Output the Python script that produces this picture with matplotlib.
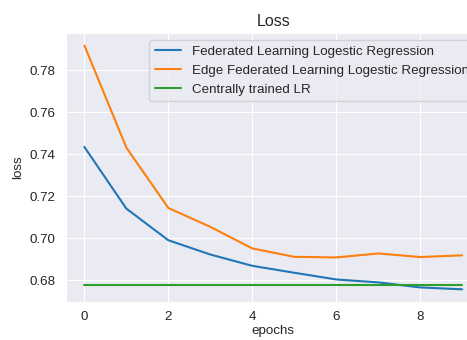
import numpy as np
import matplotlib
matplotlib.use("Agg")
import matplotlib.pyplot as plt
import seaborn as sns

# Data
epochs = list(range(10))
fl_loss = [0.7435, 0.7141, 0.6990, 0.6922, 0.6868, 0.6835, 0.6803, 0.6789, 0.6765, 0.6756]
edge_fl_loss = [0.7919, 0.7432, 0.7144, 0.7054, 0.6951, 0.6911, 0.6908, 0.6927, 0.6910, 0.6918]
central_loss = [0.6778] * 10

labels = ["Federated Learning Logestic Regression",
          "Edge Federated Learning Logestic Regression",
          "Centrally trained LR"]

sns.set_style("darkgrid")
plt.rcParams['font.family'] = ['Liberation Sans', 'DejaVu Sans']
plt.rcParams['font.size'] = 9.6

fig = plt.figure(figsize=(4.67, 3.4), dpi=100)
# axes runs past the right edge, as in the cropped original
ax = fig.add_axes([65.5 / 467, 38.5 / 340, (481 - 65.5) / 467, (301.5 - 33.3) / 340])

ax.plot(epochs, fl_loss, label=labels[0])
ax.plot(epochs, edge_fl_loss, label=labels[1])
ax.plot(epochs, central_loss, label=labels[2])

ax.set_title("Loss", pad=5)
ax.set_xlabel("epochs", labelpad=1)
ax.set_ylabel("loss")
ax.legend(loc="upper right")

fig.savefig("out.png", dpi=100)
